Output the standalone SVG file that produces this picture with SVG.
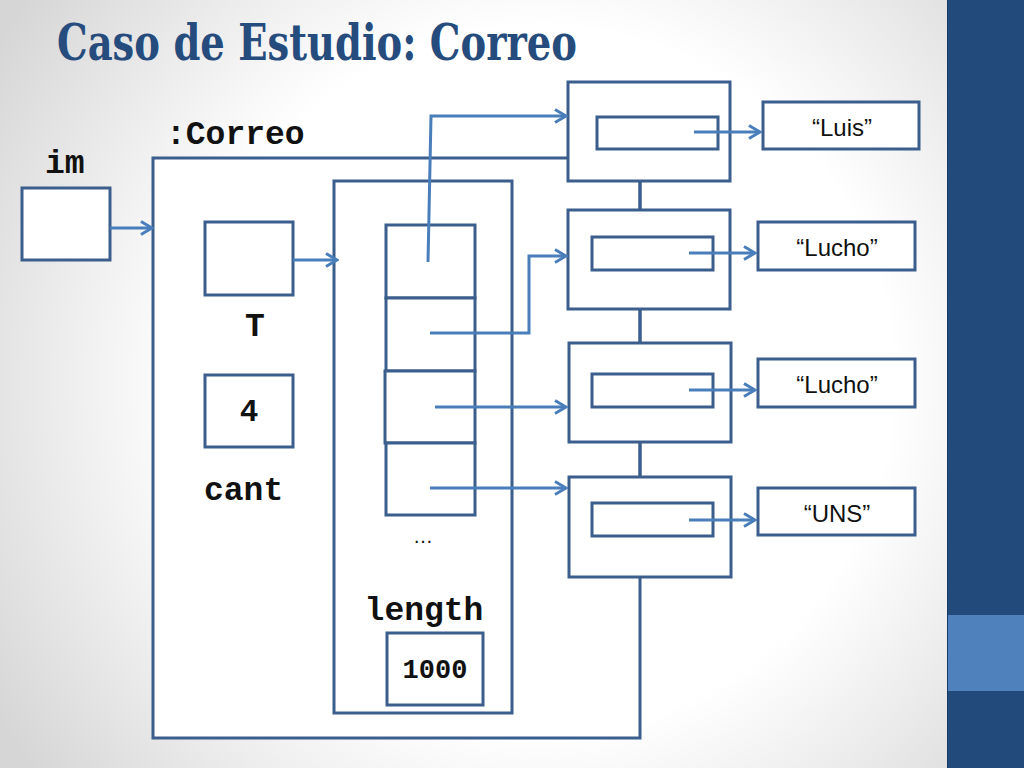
<svg xmlns="http://www.w3.org/2000/svg" width="1024" height="768" viewBox="0 0 1024 768">
<defs>
<radialGradient id="bg" cx="540" cy="380" r="640" gradientUnits="userSpaceOnUse">
<stop offset="0" stop-color="#ffffff"/>
<stop offset="0.55" stop-color="#ffffff"/>
<stop offset="1" stop-color="#d6d6d6"/>
</radialGradient>
<marker id="arr" markerUnits="userSpaceOnUse" markerWidth="14" markerHeight="16" viewBox="0 0 14 16" refX="12" refY="8" orient="auto">
<path d="M1,1.5 L12,8 L1,14.5" fill="none" stroke="#4A7EBB" stroke-width="3"/>
</marker>
</defs>
<style>
.box{fill:#ffffff;stroke:#3B5E8C;stroke-width:3}
.con{fill:none;stroke:#4A7EBB;stroke-width:3;marker-end:url(#arr)}
.line{fill:none;stroke:#3B5E8C;stroke-width:3}
.mono{font-family:"Liberation Mono","DejaVu Sans Mono",monospace;font-weight:bold;fill:#111111}
.str{font-family:"Liberation Sans","Open Sans",sans-serif;font-size:24px;fill:#111111;text-anchor:middle}
</style>
<rect x="0" y="0" width="1024" height="768" fill="url(#bg)"/>
<g id="sidebar">
<rect x="947" y="0" width="77" height="768" fill="#224B7C"/>
<rect x="947" y="615" width="77" height="76" fill="#4F81BD"/>
<line x1="947.5" y1="0" x2="947.5" y2="768" stroke="#1A3A63" stroke-width="1"/>
</g>
<text x="57" y="60" font-family="'DejaVu Serif Condensed','DejaVu Serif','Liberation Serif',serif" font-weight="bold" font-size="51" fill="#264C7E" textLength="520" lengthAdjust="spacingAndGlyphs">Caso de Estudio: Correo</text>

<g id="correo">
<rect class="box" x="153" y="158" width="487" height="580"/>
<text class="mono" x="166" y="144" font-size="33">:Correo</text>
</g>
<g id="im">
<rect class="box" x="22" y="188" width="88" height="72"/>
<text class="mono" x="45" y="173" font-size="33">im</text>
</g>
<g id="T">
<rect class="box" x="205" y="222" width="88" height="73"/>
<text class="mono" x="255" y="336" font-size="33" text-anchor="middle">T</text>
</g>
<g id="cant">
<rect class="box" x="205" y="375" width="88" height="72"/>
<text class="mono" x="249" y="421" font-size="31" text-anchor="middle">4</text>
<text class="mono" x="204" y="500" font-size="33">cant</text>
</g>
<g id="array">
<rect class="box" x="334" y="181" width="178" height="532"/>
<rect class="box" x="386" y="225" width="89" height="73"/>
<rect class="box" x="386" y="298" width="89" height="73"/>
<rect class="box" x="385" y="371" width="90" height="72"/>
<rect class="box" x="386" y="443" width="89" height="72"/>
<text x="423" y="543" font-family="'Liberation Sans',sans-serif" font-size="20" fill="#111111" text-anchor="middle">…</text>
<text class="mono" x="424" y="620" font-size="33" text-anchor="middle">length</text>
<rect class="box" x="387" y="633" width="96" height="72"/>
<text class="mono" x="435" y="678" font-size="27" text-anchor="middle">1000</text>
</g>
<g id="chain">
<line class="line" x1="640" y1="181" x2="640" y2="210"/>
<line class="line" x1="640" y1="309" x2="640" y2="343"/>
<line class="line" x1="640" y1="442" x2="640" y2="477"/>
</g>
<g id="node1">
<rect class="box" x="568" y="82" width="162" height="99"/>
<rect class="box" x="597" y="117" width="121" height="32"/>
</g>
<g id="node2">
<rect class="box" x="568" y="210" width="162" height="99"/>
<rect class="box" x="592" y="237" width="121" height="33"/>
</g>
<g id="node3">
<rect class="box" x="569" y="343" width="162" height="99"/>
<rect class="box" x="592" y="374" width="121" height="33"/>
</g>
<g id="node4">
<rect class="box" x="569" y="477" width="162" height="100"/>
<rect class="box" x="592" y="503" width="121" height="33"/>
</g>
<g id="s1">
<rect class="box" x="763" y="102" width="156" height="47"/>
<text class="str" x="842" y="136">“Luis”</text>
</g>
<g id="s2">
<rect class="box" x="758" y="222" width="157" height="48"/>
<text class="str" x="837" y="256">“Lucho”</text>
</g>
<g id="s3">
<rect class="box" x="758" y="359" width="157" height="48"/>
<text class="str" x="837" y="393">“Lucho”</text>
</g>
<g id="s4">
<rect class="box" x="758" y="488" width="157" height="47"/>
<text class="str" x="837" y="522">“UNS”</text>
</g>
<g id="connectors">
<polyline class="con" points="110,228 152,228"/>
<polyline class="con" points="293,260 337,260"/>
<polyline class="con" points="428,262 431,116 566,116"/>
<polyline class="con" points="430,333 529,333 529,256 566,256"/>
<polyline class="con" points="435,407 566,407"/>
<polyline class="con" points="430,488 566,488"/>
<polyline class="con" points="694,132 760,132"/>
<polyline class="con" points="689,253 755,253"/>
<polyline class="con" points="689,390 755,390"/>
<polyline class="con" points="689,520 755,520"/>
</g>
</svg>
